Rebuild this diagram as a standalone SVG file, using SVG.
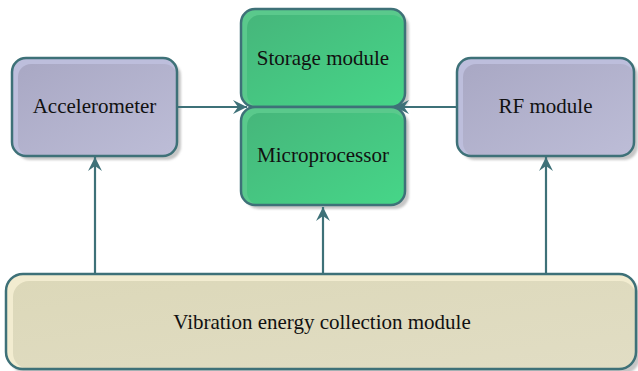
<svg xmlns="http://www.w3.org/2000/svg" width="638" height="371" viewBox="0 0 638 371">
  <defs>
    <linearGradient id="gGreen" x1="0" y1="0" x2="1" y2="1">
      <stop offset="0" stop-color="#46b67b"/>
      <stop offset="1" stop-color="#46d688"/>
    </linearGradient>
    <linearGradient id="gLav" x1="0" y1="0" x2="1" y2="1">
      <stop offset="0" stop-color="#a9a8c4"/>
      <stop offset="1" stop-color="#bdbdd7"/>
    </linearGradient>
    <linearGradient id="gSand" x1="0" y1="0" x2="1" y2="1">
      <stop offset="0" stop-color="#dcd8b9"/>
      <stop offset="1" stop-color="#e1ddc4"/>
    </linearGradient>
    <filter id="soft" x="-10%" y="-10%" width="130%" height="130%">
      <feGaussianBlur stdDeviation="1"/>
    </filter>
    <marker id="head" markerWidth="15" markerHeight="14" refX="14" refY="7" orient="auto" markerUnits="userSpaceOnUse">
      <path d="M0,0 L14,7 L0,14 L5,7 Z" fill="#3e7178"/>
    </marker>
  </defs>
  <style>
    .shadow { fill: #c6c6c6; filter: url(#soft); }
    .edge { fill: none; stroke: #3e7178; stroke-width: 2.5; }
    .rim-green { fill: #5ac98c; }
    .rim-lav { fill: #bdbedc; }
    .rim-sand { fill: #f2ecd0; }
    .label { font-family: "Liberation Serif", "Times New Roman", serif; font-size: 21px; fill: #111; text-anchor: middle; }
    .link { fill: none; stroke: #3e7178; stroke-width: 2.2; marker-end: url(#head); }
  </style>

  <!-- Accelerometer -->
  <g id="accelerometer">
    <rect class="shadow" x="16" y="62" width="165" height="98" rx="14"/>
    <rect class="rim-lav" x="12" y="58" width="165" height="98" rx="14"/>
    <rect fill="url(#gLav)" x="18" y="64" width="159" height="92" rx="13"/>
    <rect class="edge" x="12" y="58" width="165" height="98" rx="14"/>
    <text class="label" x="94.5" y="113">Accelerometer</text>
  </g>

  <!-- RF module -->
  <g id="rf-module">
    <rect class="shadow" x="461" y="62" width="177" height="98" rx="14"/>
    <rect class="rim-lav" x="457" y="58" width="177" height="98" rx="14"/>
    <rect fill="url(#gLav)" x="463" y="64" width="171" height="92" rx="13"/>
    <rect class="edge" x="457" y="58" width="177" height="98" rx="14"/>
    <text class="label" x="545.5" y="113">RF module</text>
  </g>

  <!-- Storage module -->
  <g id="storage">
    <rect class="shadow" x="245" y="13" width="164" height="98" rx="14"/>
    <rect class="rim-green" x="241" y="9" width="164" height="98" rx="14"/>
    <rect fill="url(#gGreen)" x="247" y="15" width="158" height="92" rx="13"/>
    <rect class="edge" x="241" y="9" width="164" height="98" rx="14"/>
    <text class="label" x="323" y="65">Storage module</text>
  </g>

  <!-- Microprocessor -->
  <g id="microprocessor">
    <rect class="shadow" x="245" y="111" width="164" height="98" rx="14"/>
    <rect class="rim-green" x="241" y="107" width="164" height="98" rx="14"/>
    <rect fill="url(#gGreen)" x="247" y="113" width="158" height="92" rx="13"/>
    <rect class="edge" x="241" y="107" width="164" height="98" rx="14"/>
    <text class="label" x="323" y="162">Microprocessor</text>
  </g>

  <!-- Vibration energy collection module -->
  <g id="vibration">
    <rect class="shadow" x="10" y="278" width="630" height="96" rx="17"/>
    <rect class="rim-sand" x="6" y="274" width="630" height="95" rx="17"/>
    <rect fill="url(#gSand)" x="13" y="281" width="623" height="88" rx="16"/>
    <rect class="edge" x="6" y="274" width="630" height="95" rx="17"/>
    <text class="label" x="322" y="329">Vibration energy collection module</text>
  </g>

  <!-- Connectors -->
  <g id="connectors">
    <path class="link" d="M178,107 L247,107"/>
    <path class="link" d="M457,107 L395,107"/>
    <path class="link" d="M95,273 L95,157"/>
    <path class="link" d="M323,273 L323,207"/>
    <path class="link" d="M546,273 L546,157"/>
  </g>
</svg>
